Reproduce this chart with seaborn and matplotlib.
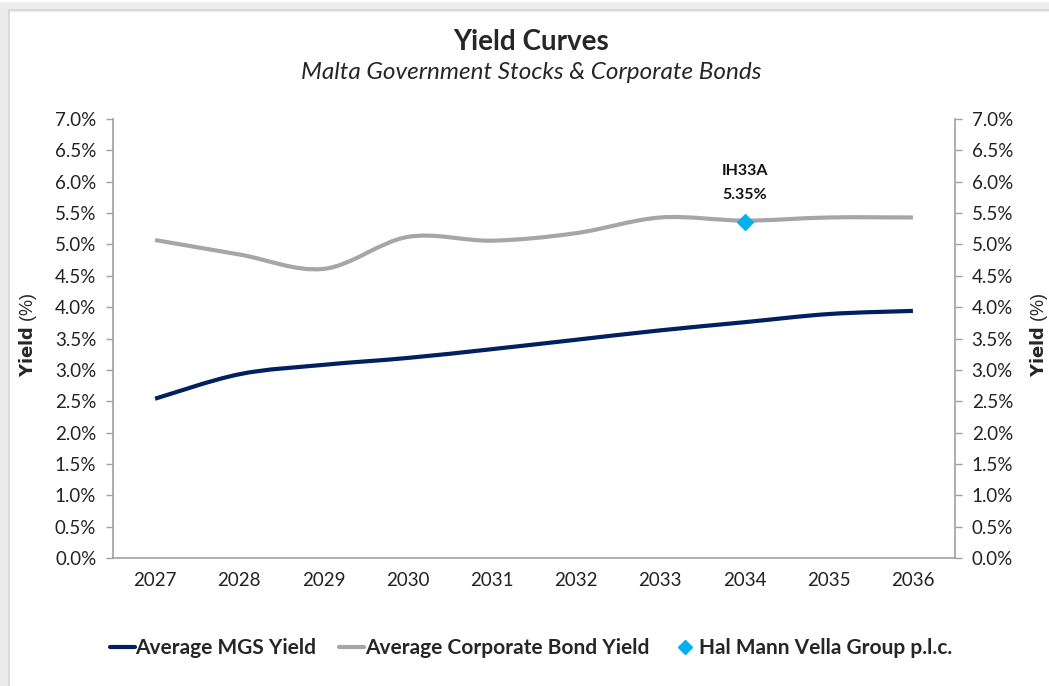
import numpy as np
import pandas as pd
import seaborn as sns
import matplotlib.pyplot as plt
from matplotlib.path import Path
from matplotlib.patches import PathPatch, Rectangle
from matplotlib.lines import Line2D
from matplotlib.ticker import PercentFormatter, MultipleLocator

years = ['2027', '2028', '2029', '2030', '2031', '2032', '2033', '2034', '2035', '2036']
mgs_yield = [2.54, 2.93, 3.08, 3.19, 3.33, 3.48, 3.63, 3.76, 3.89, 3.94]
corp_yield = [5.07, 4.84, 4.61, 5.12, 5.06, 5.18, 5.43, 5.38, 5.43, 5.43]
bond_year = ['2034']
bond_yield = [5.35]
bond_code = 'IH33A'

NAVY = '#002060'
GREY = '#a6a6a6'
CYAN = '#00b0f0'
FONT = 'Lato'


def smooth_path(xs, ys):
    # excel style smoothed line: cubic bezier through each point
    pts = np.column_stack([xs, ys]).astype(float)
    verts = [pts[0]]
    codes = [Path.MOVETO]
    n = len(pts)
    for i in range(n - 1):
        p0 = pts[i - 1] if i > 0 else pts[i]
        p1 = pts[i]
        p2 = pts[i + 1]
        p3 = pts[i + 2] if i + 2 < n else pts[i + 1]
        c1 = p1 + (p2 - p0) / 6.0
        c2 = p2 - (p3 - p1) / 6.0
        verts += [c1, c2, p2]
        codes += [Path.CURVE4] * 3
    return Path(verts, codes)


def main():
    sns.set_style('white')
    plt.rcParams['font.family'] = [FONT, 'DejaVu Sans']

    df = pd.DataFrame({'year': years, 'mgs': mgs_yield, 'corp': corp_yield})
    df['pos'] = range(len(df))
    bond = pd.DataFrame({'pos': [years.index(y) for y in bond_year], 'yield': bond_yield})

    fig = plt.figure(figsize=(10.49, 6.86), dpi=100)
    ax = fig.add_axes([0.1077, 0.1866, 0.8027, 0.6399])

    # outer chart frame
    fig.patches.append(Rectangle((0.004, -0.1), 1.2, 1.09, transform=fig.transFigure,
                                 fill=False, edgecolor='#ececec', linewidth=7, zorder=0))
    fig.patches.append(Rectangle((0.009, -0.1), 1.2, 1.086, transform=fig.transFigure,
                                 fill=False, edgecolor='#d6d6d6', linewidth=1.2, zorder=0))

    ax.add_patch(PathPatch(smooth_path(df['pos'], df['corp']), fill=False,
                           edgecolor=GREY, linewidth=3, capstyle='butt', zorder=2))
    ax.add_patch(PathPatch(smooth_path(df['pos'], df['mgs']), fill=False,
                           edgecolor=NAVY, linewidth=3, capstyle='butt', zorder=3))
    sns.scatterplot(data=bond, x='pos', y='yield', ax=ax, marker='D', s=70,
                    color=CYAN, edgecolor=CYAN, zorder=4, legend=False)

    for _, row in bond.iterrows():
        ax.annotate(f"{bond_code}\n\n{row['yield']:.2f}%", (row['pos'], row['yield']),
                    xytext=(0, 15), textcoords='offset points', ha='center', va='bottom',
                    fontsize=11.5, fontweight='bold', linespacing=0.8, color='#111111')

    ax.set_xlim(-0.5, len(years) - 0.5)
    ax.set_ylim(0, 7)
    ax.set_xticks(df['pos'])
    ax.set_xticklabels(years)
    ax.yaxis.set_major_locator(MultipleLocator(0.5))
    ax.yaxis.set_major_formatter(PercentFormatter(decimals=1))
    ax.set_xlabel('')
    ax.set_ylabel('')

    for side in ['top']:
        ax.spines[side].set_visible(False)
    for side in ['left', 'right', 'bottom']:
        ax.spines[side].set_color('#a0a0a0')
        ax.spines[side].set_linewidth(1.2)
    ax.tick_params(axis='y', which='both', left=True, right=True, labelleft=True,
                   labelright=True, length=5, width=1, color='#a0a0a0',
                   labelsize=13.5, labelcolor='#222222', pad=7)
    ax.tick_params(axis='x', length=0, labelsize=13.5, labelcolor='#222222', pad=10)

    # axis titles, bold "Yield" + regular "(%)"
    for xf in [0.027, 0.990]:
        fig.text(xf, 0.512, r'$\bf{Yield}$ (%)', rotation=90, ha='center', va='center',
                 fontsize=13, family='Liberation Sans')

    fig.text(0.506, 0.939, 'Yield Curves', ha='center', va='center',
             fontsize=20, fontweight='bold')
    fig.text(0.506, 0.895, 'Malta Government Stocks & Corporate Bonds', ha='center',
             va='center', fontsize=17.5, style='italic')

    handles = [
        Line2D([], [], color=NAVY, linewidth=3),
        Line2D([], [], color=GREY, linewidth=3),
        Line2D([], [], color=CYAN, marker='D', linestyle='', markersize=7),
    ]
    labels = ['Average MGS Yield', 'Average Corporate Bond Yield', 'Hal Mann Vella Group p.l.c.']
    fig.legend(handles, labels, loc='center', bbox_to_anchor=(0.506, 0.055), ncol=3,
               frameon=False, handlelength=1.2, handletextpad=0.05, columnspacing=1.1,
               prop={'size': 15, 'weight': 'bold', 'family': FONT})

    fig.savefig('out.png', dpi=100, facecolor='white')


if __name__ == '__main__':
    main()
